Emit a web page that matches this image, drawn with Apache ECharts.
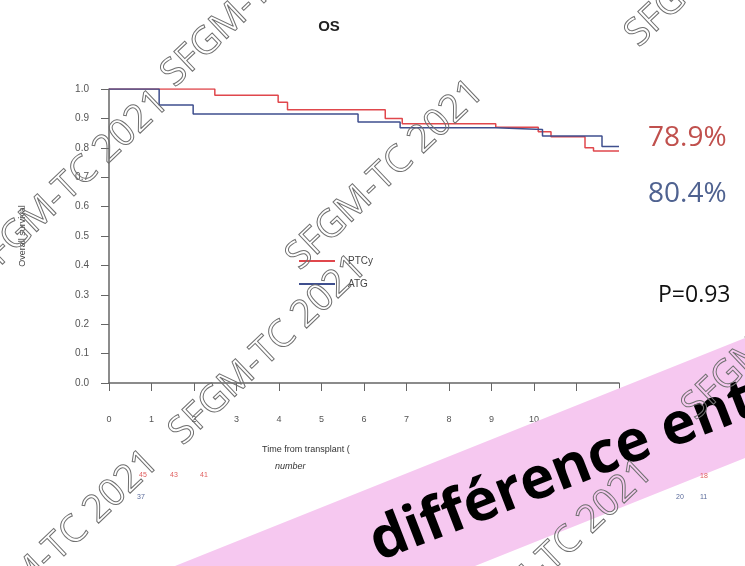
<!DOCTYPE html>
<html><head><meta charset="utf-8">
<script src="https://cdn.jsdelivr.net/npm/echarts@6/dist/echarts.min.js"></script>
<style>html,body{margin:0;padding:0;background:#fff}#c{width:745px;height:566px}</style>
</head><body><div id="c"></div>
<script>
// Kaplan-Meier overall survival (years, probability)
const ptcyTimes = [0, 2.49, 3.98, 4.2, 6.5, 6.9, 9.1, 10.1, 10.4, 11.2, 11.4, 12];
const ptcySurv  = [1.0, 0.979, 0.955, 0.929, 0.90, 0.882, 0.87, 0.855, 0.838, 0.80, 0.789, 0.789];
const atgTimes  = [0, 1.18, 1.98, 5.86, 6.85, 9.1, 10.2, 11.6, 12];
const atgSurv   = [1.0, 0.946, 0.915, 0.888, 0.868, 0.862, 0.84, 0.804, 0.804];
const xTicks = [0,1,2,3,4,5,6,7,8,9,10];
const yTicks = ['0.0','0.1','0.2','0.3','0.4','0.5','0.6','0.7','0.8','0.9','1.0'];
const riskPTCy = ['45','43','41','18'];
const riskATG  = ['37','20','11'];

const toPts = (t, s) => t.map((v, i) => [v, s[i]]);
const red = '#e0474c', blue = '#3f4f8e';
const wm = (x, y) => ({type:'text', x, y, rotation: 0.76, z: 50,
  style:{text:'SFGM-TC 2021', font:'38px "Open Sans"', fill:'rgba(255,255,255,0)', stroke:'#707070', lineWidth:1, align:'center', verticalAlign:'middle'}});
const rk = (t, left, top, color, z) => ({type:'text', left, top, z: z || 10, style:{text:t, font:'7px "Liberation Sans"', fill:color}});

const chart = echarts.init(document.getElementById('c'));
chart.setOption({
  animation:false,
  backgroundColor:'#fff',
  title:{text:'OS', left:324, top:14, textAlign:'center', textStyle:{fontSize:15, fontWeight:'bold', color:'#222', fontFamily:'Liberation Sans'}},
  grid:{left:109, right:126, top:89, bottom:183},
  legend:{orient:'vertical', left:294, top:251, itemWidth:36, itemHeight:2, itemGap:13, icon:'rect',
    textStyle:{fontSize:10, color:'#444', fontFamily:'Liberation Sans', padding:[0,0,0,8]}, data:['PTCy','ATG']},
  xAxis:{type:'value', min:0, max:12, interval:1,
    axisLine:{lineStyle:{color:'#666', width:1.5}},
    axisTick:{length:8, lineStyle:{color:'#666'}},
    splitLine:{show:false},
    axisLabel:{margin:32, fontSize:9, color:'#555', fontFamily:'Liberation Sans',
      formatter:v => xTicks.includes(v) ? String(v) : ''}},
  yAxis:{type:'value', min:0, max:1, interval:0.1,
    name:'Overall survival', nameLocation:'middle', nameGap:82, nameRotate:90,
    nameTextStyle:{fontSize:9, color:'#444', fontFamily:'Liberation Sans'},
    axisLine:{show:true, lineStyle:{color:'#666', width:1.5}},
    axisTick:{show:true, length:8, lineStyle:{color:'#666'}},
    splitLine:{show:false},
    axisLabel:{margin:20, fontSize:10, color:'#555', fontFamily:'Liberation Sans',
      formatter:v => yTicks[Math.round(v*10)]}},
  series:[
    {name:'PTCy', type:'line', step:'end', symbol:'none', data:toPts(ptcyTimes, ptcySurv), lineStyle:{color:red, width:1.5}, itemStyle:{color:red}},
    {name:'ATG', type:'line', step:'end', symbol:'none', data:toPts(atgTimes, atgSurv), lineStyle:{color:blue, width:1.5}, itemStyle:{color:blue}}
  ],
  graphic:[
    {type:'text', left:648, top:124, style:{text:'78.9%', font:'28px "Open Sans"', fill:'#c0504d'}},
    {type:'text', left:648, top:180, style:{text:'80.4%', font:'28px "Open Sans"', fill:'#4f6290'}},
    {type:'text', left:658, top:284, style:{text:'P=0.93', font:'23px "Open Sans"', fill:'#111'}},
    {type:'text', left:262, top:445, style:{text:'Time from transplant (', font:'9px "Liberation Sans"', fill:'#333'}},
    {type:'text', left:275, top:462, style:{text:'number', font:'italic 9px "Liberation Sans"', fill:'#333'}},
    rk(riskPTCy[0], 139, 472, '#e06060'), rk(riskPTCy[1], 170, 472, '#e06060'), rk(riskPTCy[2], 200, 472, '#e06060'),
    rk(riskPTCy[3], 700, 473, '#e06060', 60),
    rk(riskATG[0], 137, 494, '#5a6a9a'), rk(riskATG[1], 676, 494, '#5a6a9a', 60), rk(riskATG[2], 700, 494, '#5a6a9a', 60),
    {type:'polygon', z:40, shape:{points:[[60,612],[800,316],[800,436],[60,732]]}, style:{fill:'#f6c8f0'}},
    {type:'text', x:383, y:573, rotation:0.37, z:45, style:{text:'différence ent', font:'bold 58px "Open Sans"', fill:'#000', align:'left', verticalAlign:'bottom'}},
    wm(260, -8), wm(70, 185), wm(385, 175), wm(268, 350), wm(724, -48), wm(60, 545), wm(554, 555), wm(781, 325)
  ]
});
</script></body></html>
